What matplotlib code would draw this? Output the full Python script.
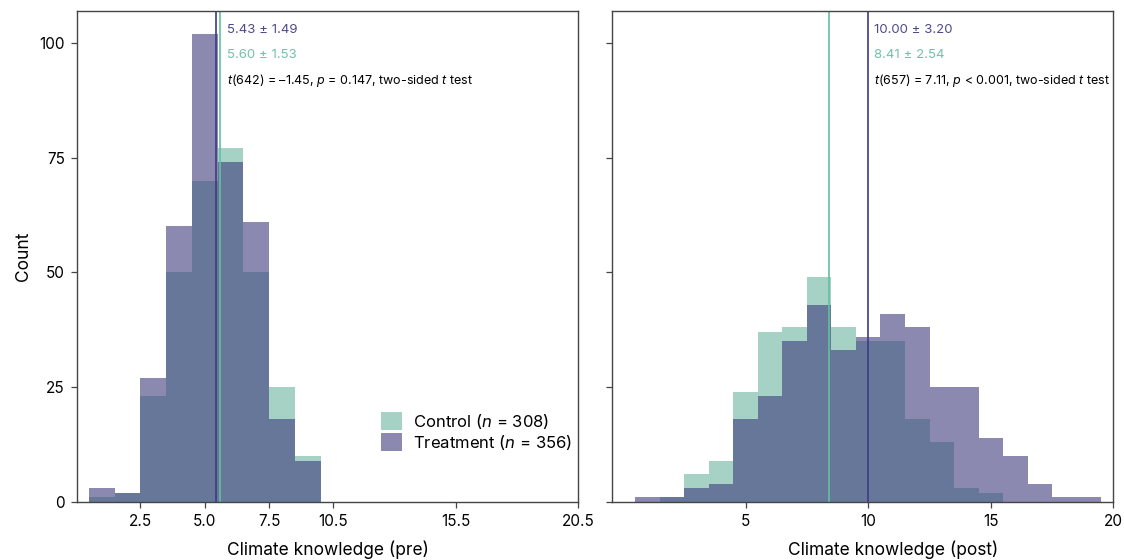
import matplotlib
matplotlib.use("Agg")
import matplotlib.pyplot as plt
import numpy as np
from matplotlib.patches import Patch

plt.rcParams['font.family'] = ['Inter', 'DejaVu Sans']
plt.rcParams['mathtext.fontset'] = 'custom'
plt.rcParams['mathtext.rm'] = 'Inter'
plt.rcParams['mathtext.it'] = 'Inter:italic'

# Knowledge scores (integer) and counts per group
scores_pre = np.arange(1, 10)
control_pre = [1, 2, 23, 50, 70, 77, 50, 25, 10]
treatment_pre = [3, 2, 27, 60, 102, 74, 61, 18, 9]

scores_post = np.arange(1, 20)
control_post = [0, 1, 6, 9, 24, 37, 38, 49, 38, 35, 35, 18, 13, 3, 2, 0, 0, 0, 0]
treatment_post = [1, 1, 3, 4, 18, 23, 35, 43, 33, 36, 41, 38, 25, 25, 14, 10, 4, 1, 1]

# Group means and SDs
mean_pre = {"treatment": 5.43, "control": 5.60}
sd_pre = {"treatment": 1.49, "control": 1.53}
mean_post = {"treatment": 10.00, "control": 8.41}
sd_post = {"treatment": 3.20, "control": 2.54}

test_pre = r"$t$(642) = –1.45, $p$ = 0.147, two-sided $t$ test"
test_post = r"$t$(657) = 7.11, $p$ < 0.001, two-sided $t$ test"

n_control, n_treatment = 308, 356

pre_ticks = [2.5, 5.0, 7.5, 10.0, 14.75, 19.5]
pre_ticklabels = ["2.5", "5.0", "7.5", "10.5", "15.5", "20.5"]
post_ticks = [5, 10, 15, 20]
y_ticks = [0, 25, 50, 75, 100]

c_control = "#6bb4a0"
c_treat = "#3e3a7b"
line_control = "#62bfa0"
line_treat = "#3d3a85"
txt_control = "#72c2a8"
txt_treat = "#4e4a8e"
spine_col = "#444444"

fig = plt.figure(figsize=(11.24, 5.6), dpi=100)
ax1 = fig.add_axes([0.0688, 0.1036, 0.4455, 0.8775])
ax2 = fig.add_axes([0.5448, 0.1036, 0.4457, 0.8775], sharey=ax1)


def draw_panel(ax, scores, ctrl, treat, means, sds, test_text):
    edges = np.arange(0.5, scores[-1] + 1.0, 1.0)
    ax.hist(scores, bins=edges, weights=ctrl, color=c_control, alpha=0.6,
            linewidth=0)
    ax.hist(scores, bins=edges, weights=treat, color=c_treat, alpha=0.6,
            linewidth=0)
    ax.axvline(means["control"], color=line_control, lw=1.2)
    ax.axvline(means["treatment"], color=line_treat, lw=1.2)
    xt = max(means.values()) + 0.25
    tr = ax.get_xaxis_transform()
    ax.text(xt, 0.96, f"{means['treatment']:.2f} ± {sds['treatment']:.2f}",
            color=txt_treat, fontsize=9.5, va="center", ha="left", transform=tr)
    ax.text(xt, 0.909, f"{means['control']:.2f} ± {sds['control']:.2f}",
            color=txt_control, fontsize=9.5, va="center", ha="left", transform=tr)
    ax.text(xt, 0.858, test_text, color="black", fontsize=9,
            va="center", ha="left", transform=tr)
    for s in ax.spines.values():
        s.set_color(spine_col)
        s.set_linewidth(1.0)
    ax.tick_params(axis="both", length=4, width=0.9, color=spine_col,
                   labelsize=11, pad=5)


draw_panel(ax1, scores_pre, control_pre, treatment_pre, mean_pre, sd_pre, test_pre)
draw_panel(ax2, scores_post, control_post, treatment_post, mean_post, sd_post, test_post)

ax1.set_xlim(0.05, 19.5)
ax1.set_xticks(pre_ticks)
ax1.set_xticklabels(pre_ticklabels)
ax2.set_xlim(-0.44, 20)
ax2.set_xticks(post_ticks)
ax1.set_ylim(0, 107)
ax1.set_yticks(y_ticks)
ax2.tick_params(axis="y", labelleft=False)

ax1.set_xlabel("Climate knowledge (pre)", fontsize=12.5)
ax2.set_xlabel("Climate knowledge (post)", fontsize=12.5)
ax1.xaxis.set_label_coords(0.5, -0.078)
ax2.xaxis.set_label_coords(0.56, -0.078)
ax1.set_ylabel("Count", fontsize=12.5, labelpad=5)

handles = [Patch(facecolor=c_control, alpha=0.6, edgecolor="none"),
           Patch(facecolor=c_treat, alpha=0.6, edgecolor="none")]
labels = [rf"Control ($n$ = {n_control})", rf"Treatment ($n$ = {n_treatment})"]
ax1.legend(handles, labels, loc="upper left", bbox_to_anchor=(0.606, 0.184),
           frameon=False, fontsize=12, handlelength=1.3, handleheight=1.3,
           handletextpad=0.64, labelspacing=0.12, borderaxespad=0, borderpad=0)

fig.savefig("out.png", dpi=100)
